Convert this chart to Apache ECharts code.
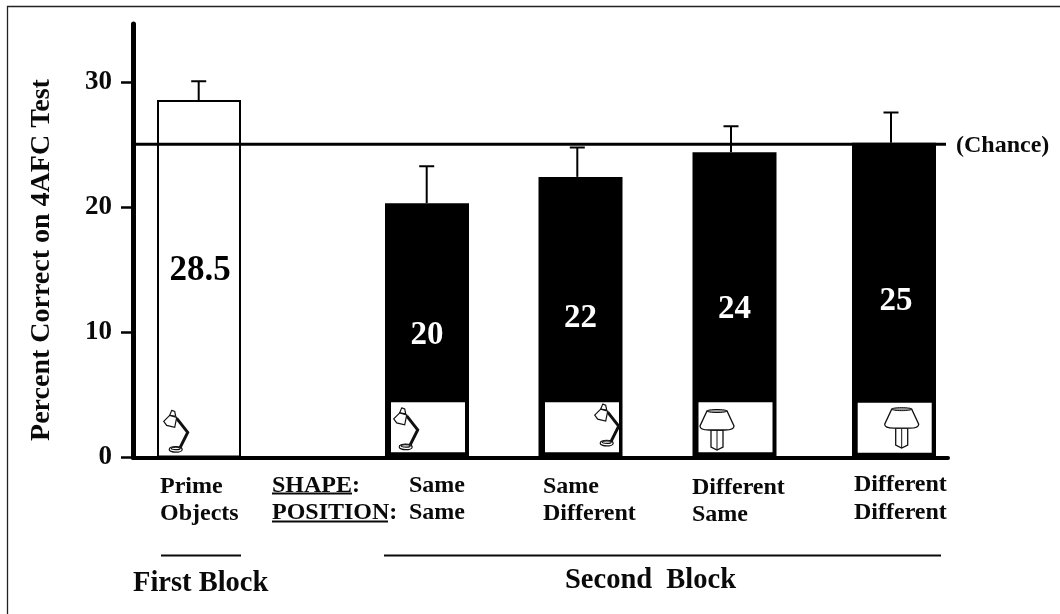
<!DOCTYPE html>
<html><head><meta charset="utf-8">
<style>html,body{margin:0;padding:0;background:#fff}#c{width:1060px;height:614px}</style>
<script src="https://cdn.jsdelivr.net/npm/echarts@6/dist/echarts.min.js"></script>
</head><body><div id="c"></div>
<script>
// ---- data ----
var barValues   = [28.6, 20.35, 22.45, 24.42, 25.18];
var errorTops   = [30.1, 23.3, 24.8, 26.5, 27.6];
var valueLabels = ['28.5', '20', '22', '24', '25'];
var chanceLevel = 25.07;
var yTicks      = [0, 10, 20, 30];
var yTitle      = 'Percent Correct on 4AFC Test';
var iconKinds   = ['lamp', 'lamp', 'lamp', 'shade', 'shade'];

// ---- layout (pixels from the axis origin, or page pixels) ----
var L = 133, T = 24, R = 948, B = 457.5;
var barCentres = [66, 294, 447.5, 601.5, 761];
var insetCentres = [66, 295, 449, 602.5, 761.7];
var errCentres = [65.7, 293.7, 444.3, 598, 758];
var labelAt    = [14.95, 9.75, 11.15, 11.85, 12.45];
var labelDx    = [1, 0, 0, 0, 2];
var iconAt     = [[42.7, 0.65], [272.7, 0.85], [473.7, 1.15], [584, 0.6], [768.7, 0.75]];
var insetH     = [0.4, 4.43, 4.43, 4.43, 4.38];
var F = 'Liberation Serif';

var texts = [
  ['Prime', 160, 486.5], ['Objects', 160, 513.5],
  ['SHAPE:', 272, 485.5], ['POSITION:', 272, 512.5],
  ['Same', 409, 485.5], ['Same', 409, 512.5],
  ['Same', 543, 486.5], ['Different', 543, 513.5],
  ['Different', 692, 488], ['Same', 692, 514.5],
  ['Different', 854, 484.5], ['Different', 854, 512.5]
];
var rules = [[272, 352, 493.5, 2], [272, 388, 521.5, 2], [161, 241, 555.5, 2], [384, 941, 555.5, 2]];

function T1(s, x, y, size) {
  return {type: 'text', x: x, y: y, z: 50, style: {text: s, fontFamily: F, fontWeight: 'bold', fontSize: size, fill: '#0a0a0a', textAlign: 'left', textVerticalAlign: 'middle'}};
}
var graphics = [{type: 'rect', z: 1, shape: {x: 7.5, y: 6.5, width: 1200, height: 800}, style: {fill: 'none', stroke: '#222', lineWidth: 1.3}}];
texts.forEach(function (t) { graphics.push(T1(t[0], t[1], t[2], 24)); });
rules.forEach(function (r) {
  graphics.push({type: 'line', z: 50, shape: {x1: r[0], y1: r[2], x2: r[1], y2: r[2]}, style: {stroke: '#0a0a0a', lineWidth: r[3]}});
});
graphics.push(T1('First Block', 133, 584, 28.5));
graphics.push(T1('Second  Block', 565, 581, 28.5));
graphics.push(T1('(Chance)', 956, 146, 24));
graphics.push({type: 'text', x: 41.5, y: 260, rotation: Math.PI / 2, z: 50,
  style: {text: yTitle, fontFamily: F, fontWeight: 'bold', fontSize: 28, fill: '#0a0a0a', textAlign: 'center', textVerticalAlign: 'middle'}});

function lampIcon(p) {
  var st = {stroke: '#111', lineWidth: 1.2, fill: '#fff'};
  return {type: 'group', x: p[0], y: p[1], children: [
    {type: 'polyline', shape: {points: [[1, -31], [12, -17], [4, -1]]}, style: {stroke: '#111', lineWidth: 3, fill: null}},
    {type: 'ellipse', shape: {cx: 0, cy: 0, rx: 6.5, ry: 2.8}, style: st},
    {type: 'ellipse', shape: {cx: 0, cy: -1, rx: 4.5, ry: 1.3}, style: st},
    {type: 'polygon', shape: {points: [[-4, -39], [-1, -38], [0, -33], [-6, -34]]}, style: st},
    {type: 'polygon', shape: {points: [[-12, -28], [-6, -34], [1, -32], [-1, -22], [-9, -24]]}, style: st}
  ]};
}
function shadeIcon(p) {
  var st = {stroke: '#111', lineWidth: 1.3, fill: '#fff'};
  return {type: 'group', x: p[0], y: p[1], children: [
    {type: 'polygon', shape: {points: [[-6, -20], [-6, -3], [0, 0], [6, -3], [6, -20]]}, style: st},
    {type: 'line', shape: {x1: 0, y1: -20, x2: 0, y2: 0}, style: {stroke: '#111', lineWidth: 1}},
    {type: 'path', shape: {pathData: 'M-10,-39 L10,-39 L17,-24 Q17,-20 8,-20 L-8,-20 Q-17,-20 -17,-24 Z'}, style: st},
    {type: 'ellipse', shape: {cx: 0, cy: -39, rx: 10, ry: 1.5}, style: {stroke: '#111', lineWidth: 1, fill: '#999'}}
  ]};
}

var idx = barValues.map(function (v, i) { return i; });
var option = {
  animation: false,
  backgroundColor: '#fff',
  textStyle: {fontFamily: F},
  grid: {left: L, top: T, width: R - L, height: B - T},
  xAxis: {type: 'value', min: 0, max: R - L, show: true,
    axisLine: {show: true, onZero: false, lineStyle: {color: '#000', width: 4}},
    axisTick: {show: false}, axisLabel: {show: false}, splitLine: {show: false}},
  yAxis: {type: 'value', min: 0, max: (B - T) / 12.5,
    axisLine: {show: true, onZero: false, lineStyle: {color: '#000', width: 5}},
    axisTick: {show: true, length: 12, customValues: yTicks, lineStyle: {color: '#000', width: 2.5}},
    axisLabel: {show: true, customValues: yTicks, margin: 21, fontFamily: F, fontWeight: 'bold', fontSize: 27, color: '#0a0a0a'},
    splitLine: {show: false}},
  series: [
    {type: 'custom', z: 2, silent: true, data: idx,
      renderItem: function (p, api) {
        var i = api.value(0);
        var x = api.coord([errCentres[i], errorTops[i]]);
        var b = api.coord([errCentres[i], barValues[i]]);
        return {type: 'group', children: [
          {type: 'line', shape: {x1: x[0], y1: x[1], x2: x[0], y2: b[1]}, style: {stroke: '#000', lineWidth: 2}},
          {type: 'line', shape: {x1: x[0] - 7.5, y1: x[1], x2: x[0] + 7.5, y2: x[1]}, style: {stroke: '#000', lineWidth: 2}}
        ]};
      }},
    {type: 'bar', z: 3, barWidth: 84, silent: true,
      data: barValues.map(function (v, i) {
        return {value: [barCentres[i], v], itemStyle: {color: i === 0 ? '#fff' : '#000', borderColor: '#000', borderWidth: i === 0 ? 2 : 0}};
      })},
    {type: 'line', z: 5, silent: true, symbol: 'none', lineStyle: {color: '#000', width: 3},
      data: [[0, chanceLevel], [R - L - 2, chanceLevel]]},
    {type: 'custom', z: 6, silent: true, data: idx, clip: false,
      renderItem: function (p, api) {
        var i = api.value(0), ch = [];
        if (i > 0) {
          var a = api.coord([insetCentres[i] - 37, insetH[i]]);
          var b = api.coord([insetCentres[i] + 37, insetH[i] - 4]);
          ch.push({type: 'rect', shape: {x: a[0], y: a[1], width: b[0] - a[0], height: b[1] - a[1]}, style: {fill: '#fff'}});
        }
        var ic = api.coord(iconAt[i]);
        ch.push(iconKinds[i] === 'lamp' ? lampIcon(ic) : shadeIcon(ic));
        var t = api.coord([barCentres[i] + labelDx[i], labelAt[i]]);
        ch.push({type: 'text', x: t[0], y: t[1], style: {text: valueLabels[i], fontFamily: F, fontWeight: 'bold', fontSize: i === 0 ? 35 : 33,
          fill: i === 0 ? '#000' : '#fff', textAlign: 'center', textVerticalAlign: 'middle'}});
        return {type: 'group', children: ch};
      }}
  ],
  graphic: {elements: graphics}
};
echarts.init(document.getElementById('c'), null, {renderer: 'canvas'}).setOption(option);
</script></body></html>
